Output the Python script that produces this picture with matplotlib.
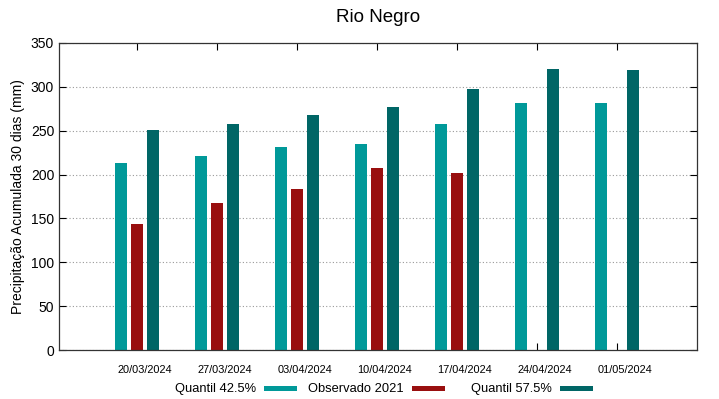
import numpy as np
import matplotlib.pyplot as plt
from matplotlib.patches import Rectangle

plt.rcParams['font.family'] = ['Liberation Sans', 'DejaVu Sans']

# dados
datas = ['20/03/2024', '27/03/2024', '03/04/2024', '10/04/2024',
         '17/04/2024', '24/04/2024', '01/05/2024']
quantil_425 = [213, 221, 232, 235, 258, 282, 282]
observado_2021 = [144, 168, 184, 207, 202, np.nan, np.nan]
quantil_575 = [251, 258, 268, 277, 298, 320, 319]

series = ['Quantil 42.5%', 'Observado 2021', 'Quantil 57.5%']
cores = ['#009999', '#990f0f', '#006666']

W, H = 719, 399
fig = plt.figure(figsize=(W / 100, H / 100), dpi=100)
ax = fig.add_axes([59 / W, 49 / H, 638 / W, 307 / H])

x = np.arange(len(datas))
largura = 0.16
desl = 0.2
for k, vals in enumerate([quantil_425, observado_2021, quantil_575]):
    ax.bar(x + (k - 1) * desl, vals, width=largura, color=cores[k], label=series[k])

ax.set_xlim(-0.975, 7.0)
ax.set_ylim(0, 350)
ax.set_yticks(np.arange(0, 351, 50))
# marcas no centro do grupo, rotulos um pouco deslocados (como no gnuplot)
ax.set_xticks(x, minor=True)
ax.set_xticks(x + 0.1)
ax.set_xticklabels(datas, fontsize=7.9)

ax.tick_params(axis='y', direction='in', length=5, right=True, labelsize=10, width=0.8)
ax.tick_params(axis='x', which='major', length=0, pad=11)
ax.tick_params(axis='x', which='minor', direction='in', length=5, width=0.8, top=True)
ax.set_axisbelow(True)
ax.grid(axis='y', linestyle=(0, (1, 2)), color='#999999', linewidth=0.8)
for s in ax.spines.values():
    s.set_color('#333333')
    s.set_linewidth(0.9)

ax.set_ylabel('Precipitação Acumulada 30 dias (mm)', fontsize=10)
ax.set_title('Rio Negro', fontsize=13.5, pad=15)

# legenda no estilo gnuplot: texto alinhado a direita e amostra depois
for k in range(3):
    xr = 256 + 148 * k
    fig.text(xr / W, (H - 392) / H, series[k], ha='right', va='baseline', fontsize=9.3)
    fig.add_artist(Rectangle(((xr + 8) / W, (H - 391) / H), 33 / W, 5 / H,
                             transform=fig.transFigure, color=cores[k], lw=0))

plt.savefig('out.png', dpi=100)
